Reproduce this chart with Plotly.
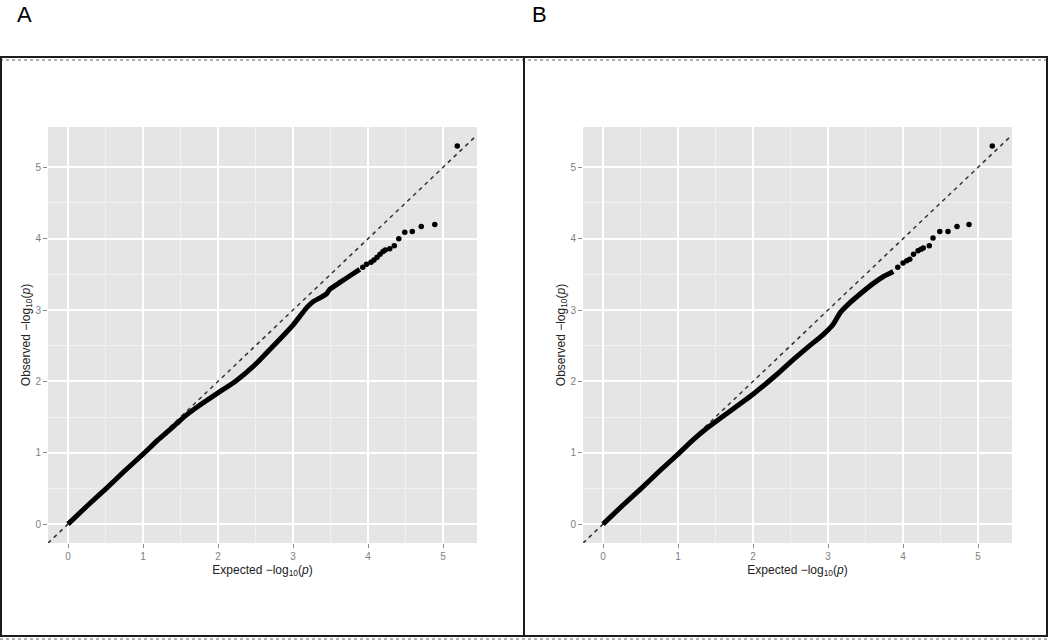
import plotly.graph_objects as go

# ---------------- data ----------------
# Panel A : expected vs observed -log10(p)
a_dense_exp = [0.0, 0.25, 0.5, 0.75, 1.0, 1.2, 1.32, 1.45, 1.58, 1.76, 2.0, 2.23, 2.5, 2.74,
               3.0, 3.09, 3.18, 3.27, 3.36, 3.45, 3.49, 3.63, 3.76, 3.89]
a_dense_obs = [0.0, 0.25, 0.49, 0.74, 0.98, 1.18, 1.29, 1.41, 1.53, 1.67, 1.84, 2.00, 2.24, 2.50,
               2.79, 2.91, 3.03, 3.12, 3.17, 3.23, 3.29, 3.39, 3.48, 3.57]
a_tail_exp = [3.93, 3.98, 4.04, 4.08, 4.12, 4.16, 4.20, 4.23, 4.29, 4.35, 4.41, 4.49, 4.59, 4.71, 4.89, 5.19]
a_tail_obs = [3.60, 3.64, 3.67, 3.70, 3.74, 3.78, 3.82, 3.84, 3.86, 3.90, 4.00, 4.09, 4.10, 4.17, 4.20, 5.30]

# Panel B
b_dense_exp = [0.0, 0.25, 0.5, 0.75, 1.0, 1.20, 1.38, 1.56, 2.0, 2.32, 2.54, 2.72, 2.94,
               3.07, 3.16, 3.29, 3.40, 3.60, 3.74, 3.87]
b_dense_obs = [0.0, 0.25, 0.49, 0.74, 0.98, 1.18, 1.34, 1.48, 1.82, 2.10, 2.31, 2.47, 2.66,
               2.80, 2.96, 3.10, 3.20, 3.37, 3.47, 3.54]
b_tail_exp = [3.93, 4.00, 4.05, 4.09, 4.14, 4.20, 4.24, 4.27, 4.35, 4.40, 4.49, 4.60, 4.72, 4.88, 5.19]
b_tail_obs = [3.60, 3.66, 3.69, 3.71, 3.78, 3.83, 3.85, 3.87, 3.90, 4.01, 4.10, 4.10, 4.17, 4.20, 5.30]

x_ticks = [0, 1, 2, 3, 4, 5]
y_ticks = [0, 1, 2, 3, 4, 5]
panel_labels = ["A", "B"]
x_title = "Expected \u2212log<sub>10</sub>(<i>p</i>)"
y_title = "Observed \u2212log<sub>10</sub>(<i>p</i>)"

X_RANGE = [-0.267, 5.453]
Y_RANGE = [-0.265, 5.565]

W, H = 1050, 640
FONT = "Liberation Sans"

fig = go.Figure()


def px_x(p):
    return p / W


def px_y(p):
    return 1 - p / H


panels = [
    (a_dense_exp, a_dense_obs, a_tail_exp, a_tail_obs, "x", "y"),
    (b_dense_exp, b_dense_obs, b_tail_exp, b_tail_obs, "x2", "y2"),
]

for dex, dob, tex, tob, xa, ya in panels:
    # y = x reference line across the panel
    fig.add_trace(go.Scatter(x=X_RANGE, y=X_RANGE, mode="lines",
                             line=dict(color="#333333", width=1.5, dash="4px,4px"),
                             xaxis=xa, yaxis=ya, hoverinfo="skip", showlegend=False))
    fig.add_trace(go.Scatter(x=dex, y=dob, mode="lines",
                             line=dict(color="black", width=5, shape="spline", smoothing=0.4),
                             xaxis=xa, yaxis=ya, showlegend=False))
    fig.add_trace(go.Scatter(x=tex, y=tob, mode="markers",
                             marker=dict(color="black", size=5.5, symbol="circle"),
                             xaxis=xa, yaxis=ya, showlegend=False))

common_x = dict(range=X_RANGE, tickmode="array", tickvals=x_ticks,
                ticks="outside", ticklen=4, tickwidth=1, tickcolor="#8a8a8a",
                tickfont=dict(family=FONT, size=10, color="#808080"),
                showgrid=True, gridcolor="white", gridwidth=1.6,
                zeroline=False, showline=False,
                minor=dict(tickmode="array", tickvals=[0.5, 1.5, 2.5, 3.5, 4.5],
                           showgrid=True, gridcolor="#F2F2F2", gridwidth=0.9, ticks=""),
                title=dict(text=x_title, font=dict(family=FONT, size=12, color="#222"),
                           standoff=4),
                fixedrange=True)
common_y = dict(range=Y_RANGE, tickmode="array", tickvals=y_ticks,
                ticks="outside", ticklen=4, tickwidth=1, tickcolor="#8a8a8a",
                tickfont=dict(family=FONT, size=10, color="#808080"),
                showgrid=True, gridcolor="white", gridwidth=1.6,
                zeroline=False, showline=False,
                minor=dict(tickmode="array", tickvals=[0.5, 1.5, 2.5, 3.5, 4.5],
                           showgrid=True, gridcolor="#F2F2F2", gridwidth=0.9, ticks=""),
                title=dict(text=y_title, font=dict(family=FONT, size=12, color="#222"),
                           standoff=2),
                fixedrange=True)

ydom = [px_y(543), px_y(127)]
fig.update_layout(
    xaxis=dict(common_x, domain=[px_x(48), px_x(477)], anchor="y"),
    yaxis=dict(common_y, domain=ydom, anchor="x"),
    xaxis2=dict(common_x, domain=[px_x(583), px_x(1012)], anchor="y2"),
    yaxis2=dict(common_y, domain=ydom, anchor="x2"),
)

# outer frame
shapes = []
dark = dict(color="#1c1c1c", width=2)
shadow = dict(color="#b0b0b0", width=2, dash="dot")
shapes.append(dict(type="line", xref="paper", yref="paper", x0=0, x1=px_x(1048),
                   y0=px_y(57), y1=px_y(57), line=dark))
shapes.append(dict(type="line", xref="paper", yref="paper", x0=0, x1=1,
                   y0=px_y(60), y1=px_y(60), line=shadow))
shapes.append(dict(type="line", xref="paper", yref="paper", x0=0, x1=px_x(1048),
                   y0=px_y(636), y1=px_y(636), line=dark))
shapes.append(dict(type="line", xref="paper", yref="paper", x0=0, x1=1,
                   y0=px_y(639), y1=px_y(639), line=shadow))
for xp in (1, 524, 1047):
    shapes.append(dict(type="line", xref="paper", yref="paper", x0=px_x(xp), x1=px_x(xp),
                       y0=px_y(636), y1=px_y(57), line=dark))

annotations = []
for lab, xp in zip(panel_labels, (15, 530)):
    annotations.append(dict(text=lab, xref="paper", yref="paper", x=px_x(xp), y=1.0,
                            xanchor="left", yanchor="top", showarrow=False,
                            font=dict(family=FONT, size=22, color="black")))

fig.update_layout(
    width=W, height=H, autosize=False,
    margin=dict(l=0, r=0, t=0, b=0, pad=0),
    paper_bgcolor="white", plot_bgcolor="#E5E5E5",
    shapes=shapes, annotations=annotations,
    showlegend=False,
    font=dict(family=FONT),
)

fig.write_html("out.html", post_script="document.body.style.margin='0';",
               config={"displayModeBar": False})
